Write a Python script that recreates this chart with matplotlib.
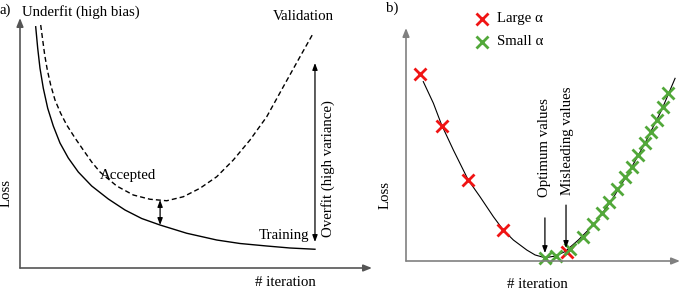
import matplotlib.pyplot as plt

plt.rcParams['font.family'] = ['Liberation Serif', 'DejaVu Serif']
FS = 10.7

# ---- panel a: training / validation curves (arbitrary units 0-100)
train_x = [4.46, 5.03, 5.68, 6.62, 7.87, 9.46, 11.36, 13.72, 16.56, 20.37, 25.09,
           29.83, 34.57, 39.77, 47.36, 55.88, 62.5, 70.09, 76.7, 83.8]
train_y = [96.5, 87.9, 79.9, 71.9, 63.9, 56.8, 50.0, 44.0, 38.4, 32.8, 27.6,
           23.2, 19.8, 17.2, 13.9, 11.2, 9.8, 8.8, 8.0, 7.5]

val_x = [5.88, 6.45, 7.02, 7.76, 8.72, 9.94, 11.51, 13.27, 15.63, 17.98, 20.37,
         22.73, 27.47, 32.19, 36.93, 41.68, 46.39, 51.14, 55.88, 60.6, 65.34,
         70.09, 74.8, 79.55, 83.3]
val_y = [97.2, 91.2, 85.2, 79.2, 73.2, 67.2, 62.0, 57.2, 52.0, 47.2, 42.4,
         38.4, 32.8, 29.2, 27.5, 26.9, 28.5, 31.9, 36.5, 43.2, 51.2,
         60.5, 72.5, 84.5, 93.9]

# ---- panel b: loss curve and steps
curve_x = [6.3, 10.0, 13.0, 17.3, 22.7, 27.0, 31.9, 35.5, 39.2, 44.1, 47.1, 50.7,
           54.4, 58.0, 62.9, 69.0, 75.1, 81.1, 87.2, 93.3, 98.2]
curve_y = [77.0, 67.7, 58.4, 47.6, 34.8, 27.6, 19.0, 13.3, 9.0, 4.7, 2.6, 1.4,
           2.1, 4.0, 9.0, 16.2, 26.2, 37.6, 50.5, 64.8, 78.4]

large_x = [5.1, 13.0, 22.7, 35.5, 58.6]
large_y = [80.3, 57.9, 34.8, 13.3, 3.9]

small_x = [50.7, 54.7, 59.9, 64.6, 68.2, 71.5, 74.1, 77.0, 79.9, 82.5, 84.7, 87.2,
           89.4, 91.6, 93.8, 95.6]
small_y = [1.3, 2.1, 5.2, 10.3, 15.9, 20.6, 25.3, 30.9, 36.1, 40.3, 45.5, 50.6,
           55.4, 60.5, 66.1, 72.1]

RED = '#f01414'
GREEN = '#52a83a'

fig = plt.figure(figsize=(6.85, 2.92), dpi=100)
W, H = 685, 292


def make_axes(x0, y0, x1, y1):
    # pixel box -> axes
    ax = fig.add_axes([x0 / W, (H - y0) / H, (x1 - x0) / W, (y0 - y1) / H])
    ax.set_xlim(0, 100)
    ax.set_ylim(0, 100)
    ax.axis('off')
    return ax


def axis_arrows(ax, color):
    for end in [(0, 1), (1, 0)]:
        ax.annotate('', xy=end, xytext=(0, 0), xycoords='axes fraction',
                    arrowprops=dict(arrowstyle='-|>,head_length=0.5,head_width=0.2',
                                    color=color, lw=1.2, shrinkA=0, shrinkB=0))


def double_arrow(ax, x, y0, y1):
    ax.annotate('', xy=(x, y1), xytext=(x, y0),
                arrowprops=dict(arrowstyle='<|-|>,head_length=0.4,head_width=0.15',
                                color='black', lw=0.9, shrinkA=0, shrinkB=0))


def down_arrow(ax, x, y0, y1):
    ax.annotate('', xy=(x, y1), xytext=(x, y0),
                arrowprops=dict(arrowstyle='-|>,head_length=0.4,head_width=0.15',
                                color='black', lw=0.9, shrinkA=0, shrinkB=0))


# panel a
ax1 = make_axes(20, 268, 372, 18)
axis_arrows(ax1, '#555555')
ax1.plot(train_x, train_y, color='black', lw=1.0)
ax1.plot(val_x, val_y, color='black', lw=1.0, dashes=(3.6, 2.2))
double_arrow(ax1, 39.8, 27.2, 17.2)
double_arrow(ax1, 83.8, 82.0, 10.4)

kw = dict(fontsize=FS, clip_on=False)
ax1.text(-5.7, 103.2, 'a)', ha='left', va='center', **kw)
ax1.text(0.6, 102.4, 'Underfit (high bias)', ha='left', va='center', **kw)
ax1.text(71.9, 100.8, 'Validation', ha='left', va='center', **kw)
ax1.text(22.7, 37.2, 'Accepted', ha='left', va='center', **kw)
ax1.text(67.9, 13.2, 'Training', ha='left', va='center', **kw)
ax1.text(87.4, 39.6, 'Overfit (high variance)', rotation=90, ha='center', va='center', **kw)
ax1.text(-4.0, 30, 'Loss', rotation=90, ha='center', va='center', **kw)
ax1.text(75.3, -6.0, '# iteration', ha='center', va='center', **kw)

# panel b
ax2 = make_axes(406, 261, 680, 28)
axis_arrows(ax2, '#808080')
ax2.plot(curve_x, curve_y, color='black', lw=0.8)
ax2.plot(large_x, large_y, 'x', color=RED, ms=8, mew=2, clip_on=False)
ax2.plot(small_x, small_y, 'x', color=GREEN, ms=8, mew=2, clip_on=False)
down_arrow(ax2, 50.7, 18.5, 3.4)
down_arrow(ax2, 58.4, 24.0, 5.6)

ax2.text(50.4, 27.5, 'Optimum values', rotation=90, ha='center', va='bottom', **kw)
ax2.text(59.1, 28.3, 'Misleading values', rotation=90, ha='center', va='bottom', **kw)
ax2.text(-5.1, 108.6, 'b)', ha='center', va='center', **kw)
ax2.text(-7.7, 28.3, 'Loss', rotation=90, ha='center', va='center', **kw)
ax2.text(47.8, -10.3, '# iteration', ha='center', va='center', **kw)

ax2.plot([27.7], [103.9], 'x', color=RED, ms=8, mew=2, clip_on=False)
ax2.plot([27.7], [94.0], 'x', color=GREEN, ms=8, mew=2, clip_on=False)
ax2.text(33.2, 103.9, 'Large α', ha='left', va='center', **kw)
ax2.text(33.2, 94.0, 'Small α', ha='left', va='center', **kw)

fig.savefig('out.png', dpi=100)
